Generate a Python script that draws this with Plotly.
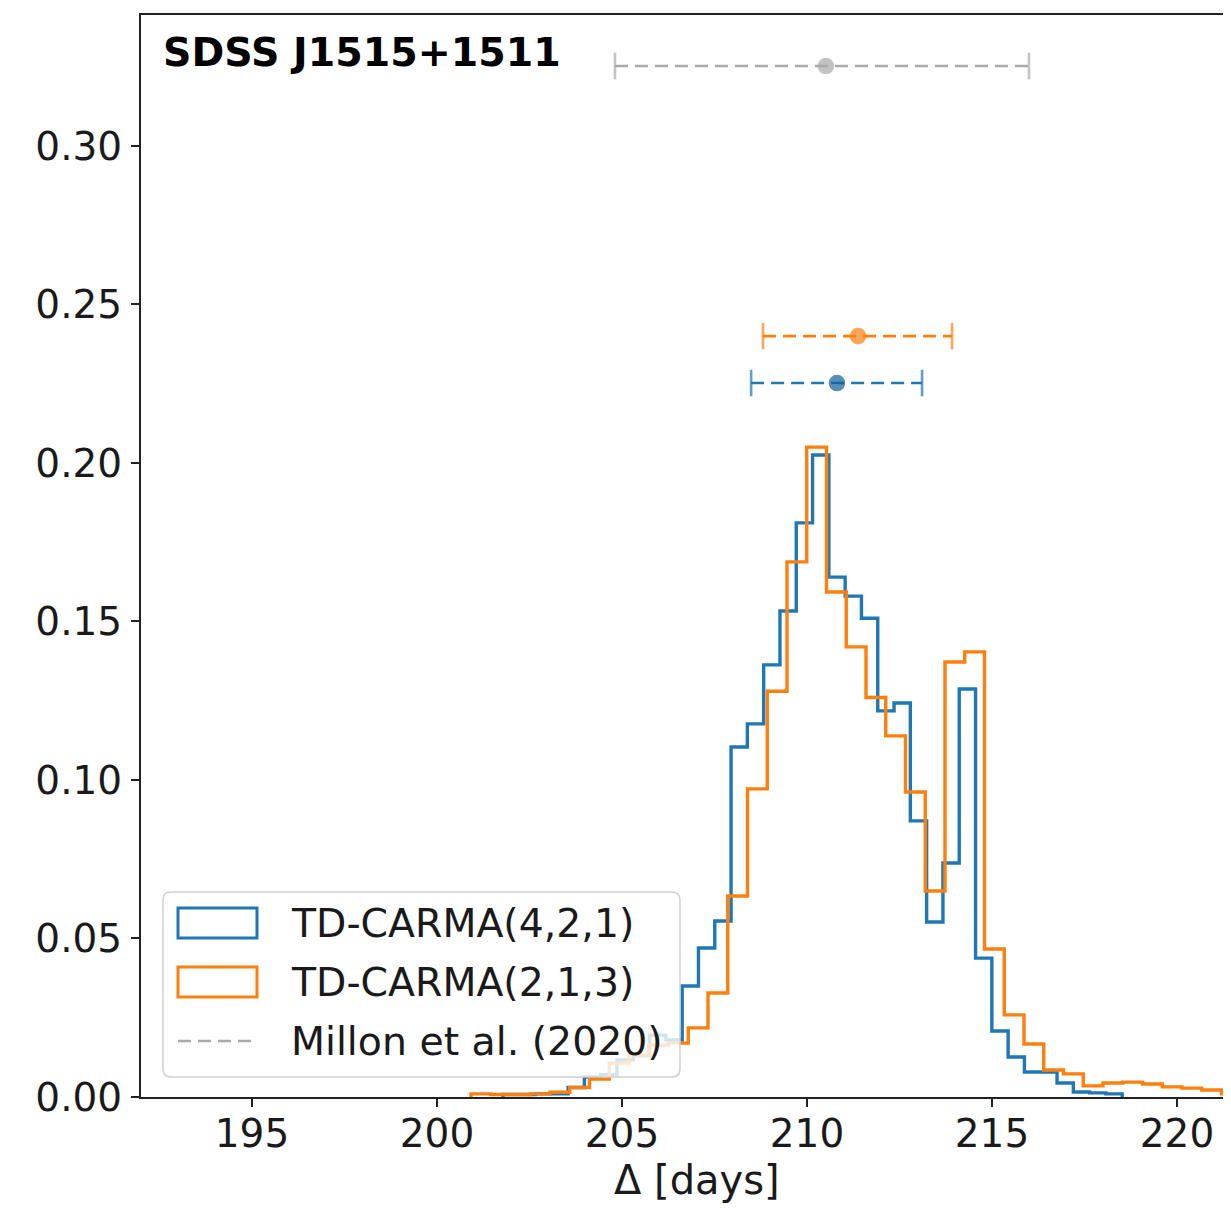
import plotly.graph_objects as go

# ---------------- data ----------------
# histogram bins (evenly spaced, as produced by np.histogram)
blue_start = 201.781
blue_width = 0.4405
blue_density = [0.0008, 0.0008, 0.0010, 0.0010, 0.0030, 0.0063, 0.0070, 0.0117,
                0.0130, 0.0195, 0.0180, 0.0350, 0.0470, 0.0555, 0.1104, 0.1177,
                0.1363, 0.1533, 0.1811, 0.2025, 0.1640, 0.1580, 0.1510, 0.1218,
                0.1243, 0.0871, 0.0552, 0.0738, 0.1287, 0.0438, 0.0208, 0.0126,
                0.0079, 0.0079, 0.0044, 0.0016, 0.0013, 0.0010]

orange_start = 200.919
orange_width = 0.5338
orange_density = [0.0010, 0.0008, 0.0008, 0.0010, 0.0015, 0.0030, 0.0057, 0.0107,
                  0.0132, 0.0164, 0.0170, 0.0218, 0.0328, 0.0634, 0.0972, 0.1280,
                  0.1688, 0.2050, 0.1593, 0.1420, 0.1260, 0.1139, 0.0962, 0.0650,
                  0.1372, 0.1404, 0.0467, 0.0259, 0.0167, 0.0085, 0.0073, 0.0035,
                  0.0044, 0.0047, 0.0041, 0.0032, 0.0028, 0.0022, 0.0010, 0.0008]

# delay estimates (median, lower error, upper error) and the level they are drawn at
est_names = ["TD-CARMA(4,2,1)", "TD-CARMA(2,1,3)", "Millon et al. (2020)"]
est_center = [210.81, 211.38, 210.51]
est_err_lo = [2.32, 2.57, 5.70]
est_err_hi = [2.30, 2.54, 5.49]
est_level = [0.2252, 0.2400, 0.3252]

x_ticks = [195, 200, 205, 210, 215, 220]
y_ticks = [0.00, 0.05, 0.10, 0.15, 0.20, 0.25, 0.30]
x_range = [192.0, 221.46]
y_range = [0.0, 0.3413]

title_text = "SDSS J1515+1511"
x_label = "Δ [days]"

# ---------------- style ----------------
BLUE = "#1f77b4"
ORANGE = "#ff7f0e"
GRAY = "#aaaaaa"
DOT_COLORS = ["#11609a", ORANGE, GRAY]
BAR_COLORS = [BLUE, ORANGE, GRAY]
FONT = "DejaVu Sans"
TXT = "#1a1a1a"

# page has an 8px body margin; figure is sized so the plot area lands where the reference has it
W, H = 1223, 1200
ML, MR, MT, MB = 133, 0, 7, 111
PW, PH = W - ML - MR, H - MT - MB
PLOT_LEFT_PAGE, PLOT_BOTTOM_PAGE = 141, 1097


def px(xp):
    """page pixel x -> paper coordinate"""
    return (xp - PLOT_LEFT_PAGE) / PW


def py(yp):
    """page pixel y -> paper coordinate"""
    return (PLOT_BOTTOM_PAGE - yp) / PH


def step_xy(start, width, dens):
    n = len(dens)
    edges = [start + width * i for i in range(n + 1)]
    xs = [edges[0]] + edges + [edges[-1]]
    ys = [0.0] + list(dens) + [dens[-1], 0.0]
    return xs, ys


fig = go.Figure()

for start, width, dens, col, name in [
    (blue_start, blue_width, blue_density, BLUE, est_names[0]),
    (orange_start, orange_width, orange_density, ORANGE, est_names[1]),
]:
    xs, ys = step_xy(start, width, dens)
    fig.add_trace(go.Scatter(x=xs, y=ys, mode="lines", line=dict(color=col, width=3.4, shape="hv"),
                             name=name, showlegend=False, hoverinfo="skip"))

for i in range(len(est_names)):
    c = est_center[i]
    xs = [c - est_err_lo[i], c, c + est_err_hi[i]]
    ys = [est_level[i]] * 3
    fig.add_trace(go.Scatter(
        x=xs, y=ys, mode="lines+markers",
        line=dict(color=BAR_COLORS[i], width=2.6, dash="13px,7px"),
        marker=dict(symbol=["line-ns", "circle", "line-ns"], size=[19, 14, 19],
                    color=[BAR_COLORS[i], DOT_COLORS[i], BAR_COLORS[i]],
                    line=dict(width=2.6, color=[BAR_COLORS[i], DOT_COLORS[i], BAR_COLORS[i]])),
        showlegend=False, hoverinfo="skip", cliponaxis=False))

# ---------------- legend (drawn by hand to mimic matplotlib patches) ----------------
shapes = []
bx0, bx1, by0, by1, r = 163, 680, 892, 1077, 8
path = (f"M {px(bx0 + r)},{py(by0)} L {px(bx1 - r)},{py(by0)} Q {px(bx1)},{py(by0)} {px(bx1)},{py(by0 + r)} "
        f"L {px(bx1)},{py(by1 - r)} Q {px(bx1)},{py(by1)} {px(bx1 - r)},{py(by1)} "
        f"L {px(bx0 + r)},{py(by1)} Q {px(bx0)},{py(by1)} {px(bx0)},{py(by1 - r)} "
        f"L {px(bx0)},{py(by0 + r)} Q {px(bx0)},{py(by0)} {px(bx0 + r)},{py(by0)} Z")
shapes.append(dict(type="path", xref="paper", yref="paper", path=path, layer="above",
                   fillcolor="rgba(255,255,255,0.8)", line=dict(color="#d0d0d0", width=1.5)))
rows_y = [923, 982, 1041]
for i, col in enumerate([BLUE, ORANGE]):
    shapes.append(dict(type="rect", xref="paper", yref="paper", layer="above",
                       x0=px(178), x1=px(257), y0=py(rows_y[i] - 15), y1=py(rows_y[i] + 15),
                       line=dict(color=col, width=3), fillcolor="rgba(0,0,0,0)"))
shapes.append(dict(type="line", xref="paper", yref="paper", layer="above",
                   x0=px(178), x1=px(257), y0=py(rows_y[2]), y1=py(rows_y[2]),
                   line=dict(color=GRAY, width=2.6, dash="13px,7px")))

annotations = []
for i, name in enumerate(est_names):
    annotations.append(dict(text=name, xref="paper", yref="paper", x=px(289), y=py(rows_y[i]),
                            xanchor="left", yanchor="middle", showarrow=False,
                            font=dict(family=FONT, size=39.4, color=TXT)))
annotations.append(dict(text=f"<b>{title_text}</b>", xref="paper", yref="paper", x=px(161), y=py(52),
                        xanchor="left", yanchor="middle", showarrow=False,
                        font=dict(family=FONT, size=39.5, color="#000000")))
annotations.append(dict(text=x_label, xref="paper", yref="paper", x=px(697), y=py(1180),
                        xanchor="center", yanchor="middle", showarrow=False,
                        font=dict(family=FONT, size=40, color=TXT)))

fig.update_layout(
    width=W, height=H,
    margin=dict(l=ML, r=MR, t=MT, b=MB, pad=0),
    paper_bgcolor="white", plot_bgcolor="white",
    font=dict(family=FONT, size=39, color=TXT),
    shapes=shapes, annotations=annotations, showlegend=False,
)
fig.update_xaxes(range=x_range, tickvals=x_ticks, ticks="outside", ticklen=8, tickwidth=2,
                 tickcolor="#222", showline=True, linecolor="#222", linewidth=2, mirror=True,
                 showgrid=False, zeroline=False, ticklabelstandoff=-7,
                 tickfont=dict(family=FONT, size=39, color=TXT))
fig.update_yaxes(range=y_range, tickvals=y_ticks, tickformat=".2f", ticks="outside", ticklen=8,
                 tickwidth=2, tickcolor="#222", showline=True, linecolor="#222", linewidth=2,
                 mirror=False, showgrid=False, zeroline=False, ticklabelstandoff=1,
                 tickfont=dict(family=FONT, size=39, color=TXT))

fig.write_html("out.html")
